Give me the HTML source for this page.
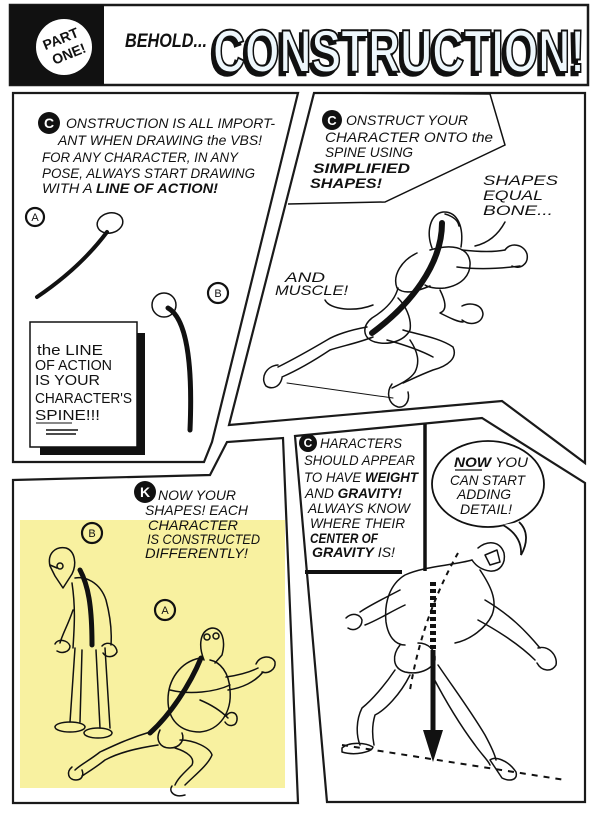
<!DOCTYPE html>
<html><head><meta charset="utf-8">
<style>
html,body{margin:0;padding:0;background:#fff;}
svg{display:block}
.t{font-family:"Liberation Sans",sans-serif;font-style:italic;font-size:14px;fill:#111;}
.b{font-weight:bold;}
.n{font-family:"Liberation Sans",sans-serif;font-size:15px;fill:#111;}
.ln{fill:none;stroke:#111;stroke-width:1.5;stroke-linecap:round;stroke-linejoin:round;}
.bd{fill:none;stroke:#1a1a1a;stroke-width:2.2;stroke-linejoin:miter;}
</style></head><body>
<svg width="600" height="816" viewBox="0 0 600 816" xmlns="http://www.w3.org/2000/svg">
<rect width="600" height="816" fill="#fff"/>

<!-- HEADER -->
<rect x="10" y="5" width="578" height="80" fill="#fff" stroke="#1a1a1a" stroke-width="2.5"/>
<rect x="10" y="5" width="94" height="80" fill="#111"/>
<circle cx="64" cy="47" r="28" fill="#fff"/>
<g transform="rotate(-22 64 47)" font-family="Liberation Sans, sans-serif" font-weight="bold" font-size="14" fill="#111">
<text x="64" y="43" text-anchor="middle">PART</text>
<text x="66" y="60" text-anchor="middle">ONE!</text>
</g>
<text x="125" y="47" class="t b" textLength="82" lengthAdjust="spacingAndGlyphs" style="font-size:19px">BEHOLD...</text>
<g font-family="Liberation Sans, sans-serif" font-weight="bold" font-size="60">
<text x="210" y="75" fill="#111" stroke="#111" stroke-width="2.5" textLength="372" lengthAdjust="spacingAndGlyphs">CONSTRUCTION!</text>
<text x="213" y="72" fill="#eef7fc" stroke="#111" stroke-width="2" textLength="372" lengthAdjust="spacingAndGlyphs">CONSTRUCTION!</text>
</g>

<!-- PANEL BORDERS -->
<path class="bd" d="M13,93 L298,93 L212,442 L204,462 L13,462 Z"/>
<path class="bd" d="M314,93 L585,93 L585,463 L502,401 L229,425 Z"/>
<rect x="20" y="520" width="265" height="268" fill="#f8f1a0"/>
<path class="bd" d="M13,480 L210,475 L227,442 L283,438 L298,803 L13,803 Z"/>
<path class="bd" d="M295,436 L482,418 L585,483 L585,802 L327,802 Z"/>
<line x1="425" y1="424" x2="425" y2="571" stroke="#111" stroke-width="3.5"/>
<line x1="305" y1="572" x2="402" y2="572" stroke="#111" stroke-width="4"/>

<!-- PANEL 1 -->
<circle cx="49" cy="123" r="11" fill="#111"/>
<text x="49" y="128" text-anchor="middle" font-family="Liberation Sans, sans-serif" font-weight="bold" font-size="14" fill="#fff">C</text>
<text class="t" x="66" y="128" textLength="209" lengthAdjust="spacingAndGlyphs">ONSTRUCTION IS ALL IMPORT-</text>
<text class="t" x="58" y="145" textLength="204" lengthAdjust="spacingAndGlyphs">ANT WHEN DRAWING the VBS!</text>
<text class="t" x="42" y="162" textLength="196" lengthAdjust="spacingAndGlyphs">FOR ANY CHARACTER, IN ANY</text>
<text class="t" x="42" y="178" textLength="213" lengthAdjust="spacingAndGlyphs">POSE, ALWAYS START DRAWING</text>
<text class="t" x="42" y="193" textLength="176" lengthAdjust="spacingAndGlyphs">WITH A <tspan class="b">LINE OF ACTION!</tspan></text>

<circle cx="35" cy="217" r="9" fill="none" stroke="#111" stroke-width="2.2"/>
<text x="35" y="221" text-anchor="middle" font-family="Liberation Sans, sans-serif" font-size="11" fill="#111">A</text>
<ellipse cx="110" cy="223" rx="13" ry="10" transform="rotate(-15 110 223)" class="ln"/>
<path d="M37,297 Q80,268 107,232" fill="none" stroke="#111" stroke-width="4" stroke-linecap="round"/>

<circle cx="218" cy="293" r="10" fill="none" stroke="#111" stroke-width="2.2"/>
<text x="218" y="297" text-anchor="middle" font-family="Liberation Sans, sans-serif" font-size="11" fill="#111">B</text>
<ellipse cx="164" cy="305" rx="12" ry="12" class="ln"/>
<path d="M168,308 C186,318 193,360 190,430" fill="none" stroke="#111" stroke-width="5" stroke-linecap="round"/>

<rect x="40" y="333" width="105" height="122" fill="#111"/>
<rect x="30" y="322" width="107" height="125" fill="#fff" stroke="#111" stroke-width="1.5"/>
<text class="n" x="37" y="355" textLength="66" lengthAdjust="spacingAndGlyphs">the LINE</text>
<text class="n" x="35" y="370" textLength="77" lengthAdjust="spacingAndGlyphs">OF ACTION</text>
<text class="n" x="35" y="385" textLength="65" lengthAdjust="spacingAndGlyphs">IS YOUR</text>
<text class="n" x="35" y="403" textLength="97" lengthAdjust="spacingAndGlyphs">CHARACTER'S</text>
<text class="n" x="35" y="420" textLength="65" lengthAdjust="spacingAndGlyphs">SPINE!!!</text>
<line x1="36" y1="423" x2="72" y2="423" stroke="#111" stroke-width="1"/>
<line x1="46" y1="430" x2="78" y2="430" stroke="#111" stroke-width="1.5"/>
<line x1="46" y1="434" x2="76" y2="434" stroke="#111" stroke-width="1.5"/>

<!-- PANEL 2 -->
<path d="M314,93 L490,94 L505,145 L385,202 L288,204" fill="none" stroke="#111" stroke-width="1.5"/>
<circle cx="332" cy="120" r="10" fill="#111"/>
<text x="332" y="125" text-anchor="middle" font-family="Liberation Sans, sans-serif" font-weight="bold" font-size="13" fill="#fff">C</text>
<text class="t" x="346" y="125" textLength="122" lengthAdjust="spacingAndGlyphs">ONSTRUCT YOUR</text>
<text class="t" x="325" y="142" textLength="168" lengthAdjust="spacingAndGlyphs">CHARACTER ONTO the</text>
<text class="t" x="325" y="157" textLength="88" lengthAdjust="spacingAndGlyphs">SPINE USING</text>
<text class="t b" x="313" y="173" textLength="97" lengthAdjust="spacingAndGlyphs">SIMPLIFIED</text>
<text class="t b" x="310" y="188" textLength="72" lengthAdjust="spacingAndGlyphs">SHAPES!</text>

<text class="t" x="483" y="185" textLength="75" lengthAdjust="spacingAndGlyphs">SHAPES</text>
<text class="t" x="483" y="200" textLength="60" lengthAdjust="spacingAndGlyphs">EQUAL</text>
<text class="t" x="483" y="215" textLength="70" lengthAdjust="spacingAndGlyphs">BONE...</text>
<path class="ln" d="M505,222 C498,235 488,243 475,246"/>

<text class="t" x="285" y="282" textLength="40" lengthAdjust="spacingAndGlyphs">AND</text>
<text class="t" x="275" y="295" textLength="73" lengthAdjust="spacingAndGlyphs">MUSCLE!</text>
<path class="ln" d="M325,300 C330,310 355,312 373,305"/>

<g class="ln">
<path d="M432,248 C426,232 430,214 443,212 C458,211 464,228 461,247"/>
<path d="M445,214 C452,216 458,220 459,226"/>
<path d="M417,253 C402,260 392,275 397,288 C405,296 420,290 430,286"/>
<path d="M430,250 C450,244 468,246 470,262 C471,275 462,285 445,288 C435,289 428,287 425,285"/>
<path d="M462,250 C480,252 495,252 505,250"/>
<path d="M457,267 C480,270 505,268 520,266"/>
<path d="M505,250 C510,242 524,244 527,254 C529,264 520,270 512,266"/>
<path d="M398,288 C395,300 385,310 372,318 C362,326 362,338 375,342 C390,346 405,340 410,330 C412,318 405,305 398,298"/>
<path d="M440,290 C445,300 448,310 440,313 C450,318 458,322 463,322"/>
<path d="M462,306 C470,302 482,304 483,314 C482,324 470,326 462,320"/>
<path d="M367,327 C350,330 335,335 327,340 C310,350 292,360 278,367"/>
<path d="M373,337 C358,343 342,346 330,350 C315,360 298,370 282,377"/>
<path d="M278,365 C266,366 260,378 266,386 C272,390 280,387 282,378"/>
<path d="M403,330 C420,335 440,338 453,347 C458,358 448,366 433,370 C420,375 410,380 403,383"/>
<path d="M387,340 C405,345 420,350 433,357"/>
<path d="M410,340 C418,352 420,362 415,372 C410,380 398,385 392,388"/>
<path d="M392,384 C386,392 388,404 398,407 C406,408 410,400 408,392"/>
<path d="M287,383 L393,398" stroke-width="1"/>
</g>
<path d="M442,223 C442,265 410,305 372,333" fill="none" stroke="#111" stroke-width="6" stroke-linecap="round"/>

<!-- PANEL 3 -->
<circle cx="145" cy="492" r="11" fill="#111"/>
<text x="145" y="497" text-anchor="middle" font-family="Liberation Sans, sans-serif" font-weight="bold" font-size="14" fill="#fff">K</text>
<text class="t" x="158" y="500" textLength="78" lengthAdjust="spacingAndGlyphs">NOW YOUR</text>
<text class="t" x="145" y="515" textLength="103" lengthAdjust="spacingAndGlyphs">SHAPES! EACH</text>
<text class="t" x="148" y="530" textLength="90" lengthAdjust="spacingAndGlyphs">CHARACTER</text>
<text class="t" x="147" y="544" textLength="113" lengthAdjust="spacingAndGlyphs">IS CONSTRUCTED</text>
<text class="t" x="145" y="558" textLength="103" lengthAdjust="spacingAndGlyphs">DIFFERENTLY!</text>

<circle cx="92" cy="533" r="10" fill="none" stroke="#111" stroke-width="2.2"/>
<text x="92" y="537" text-anchor="middle" font-family="Liberation Sans, sans-serif" font-size="11" fill="#111">B</text>
<circle cx="165" cy="610" r="10" fill="none" stroke="#111" stroke-width="2.2"/>
<text x="165" y="614" text-anchor="middle" font-family="Liberation Sans, sans-serif" font-size="11" fill="#111">A</text>

<g class="ln">
<!-- figure B -->
<path d="M50,566 C47,553 56,546 66,548 C75,551 77,564 72,574 L63,588 L55,576 Z"/>
<circle cx="60" cy="566" r="3"/>
<path d="M50,565 L57,568"/>
<path d="M72,583 C76,610 74,630 73,648"/>
<path d="M75,578 C85,576 100,582 106,600 C110,615 112,630 111,645"/>
<path d="M73,610 C68,625 62,635 60,643"/>
<path d="M55,644 C58,638 68,640 70,646 C70,652 62,654 57,651"/>
<path d="M102,646 C108,640 117,645 117,652 C114,658 106,658 103,653"/>
<path d="M75,648 L70,722 M82,650 L80,722 M96,650 L100,728 M105,648 L110,728"/>
<ellipse cx="70" cy="727" rx="15" ry="5"/>
<ellipse cx="98" cy="733" rx="14" ry="5"/>
<!-- figure A -->
<path d="M204,660 C198,645 200,630 212,628 C222,628 226,640 222,655 L215,663"/>
<circle cx="207" cy="637" r="3"/>
<circle cx="216" cy="636" r="3"/>
<path d="M200,658 C180,662 168,680 168,700 C168,720 180,732 200,732 C220,730 232,712 230,690 C229,672 220,662 210,660"/>
<path d="M170,690 C190,695 215,692 230,685"/>
<path d="M200,700 C212,705 222,712 228,718"/>
<path d="M226,677 C240,675 250,672 258,668 M228,690 C242,688 255,682 263,672"/>
<path d="M256,664 C260,655 272,655 275,662 C276,670 268,674 262,672"/>
<path d="M226,716 C230,710 238,712 237,720 C236,727 228,727 225,722"/>
<path d="M160,730 C155,740 160,748 170,748 C180,748 185,740 182,733"/>
<path d="M150,732 C130,738 115,745 100,752 C90,760 80,765 75,770"/>
<path d="M158,745 C138,748 120,752 105,760 C95,768 88,772 82,776"/>
<path d="M72,767 C66,772 68,780 76,780 C82,780 84,775 82,770"/>
<path d="M180,740 C195,740 210,748 212,755 C208,765 195,775 185,785"/>
<path d="M175,748 C188,752 195,758 192,765 C185,772 178,778 175,785"/>
<path d="M172,786 C168,792 175,798 185,795"/>
</g>
<path d="M80,570 C88,585 92,605 92,645" fill="none" stroke="#111" stroke-width="5" stroke-linecap="round"/>
<path d="M201,658 C190,685 170,715 150,733" fill="none" stroke="#111" stroke-width="5" stroke-linecap="round"/>

<!-- PANEL 4 -->
<circle cx="308" cy="443" r="9" fill="#111"/>
<text x="308" y="447" text-anchor="middle" font-family="Liberation Sans, sans-serif" font-weight="bold" font-size="12" fill="#fff">C</text>
<text class="t" x="320" y="448" textLength="82" lengthAdjust="spacingAndGlyphs">HARACTERS</text>
<text class="t" x="304" y="465" textLength="111" lengthAdjust="spacingAndGlyphs">SHOULD APPEAR</text>
<text class="t" x="304" y="482" textLength="114" lengthAdjust="spacingAndGlyphs">TO HAVE <tspan class="b">WEIGHT</tspan></text>
<text class="t" x="305" y="498" textLength="97" lengthAdjust="spacingAndGlyphs">AND <tspan class="b">GRAVITY!</tspan></text>
<text class="t" x="308" y="513" textLength="102" lengthAdjust="spacingAndGlyphs">ALWAYS KNOW</text>
<text class="t" x="310" y="528" textLength="95" lengthAdjust="spacingAndGlyphs">WHERE THEIR</text>
<text class="t b" x="310" y="543" textLength="68" lengthAdjust="spacingAndGlyphs">CENTER OF</text>
<text class="t" x="312" y="557" textLength="83" lengthAdjust="spacingAndGlyphs"><tspan class="b">GRAVITY</tspan> IS!</text>

<!-- PANEL 5 -->
<ellipse cx="488" cy="484" rx="56" ry="43" fill="#fff" stroke="#111" stroke-width="1.8"/>
<path d="M503,525 C515,532 522,542 521,555 C528,543 528,530 519,522" fill="#fff" stroke="#111" stroke-width="1.8"/>
<text class="t" x="454" y="467" textLength="74" lengthAdjust="spacingAndGlyphs"><tspan class="b">NOW</tspan> YOU</text>
<line x1="455" y1="470" x2="482" y2="470" stroke="#111" stroke-width="1.3"/>
<text class="t" x="450" y="485" textLength="75" lengthAdjust="spacingAndGlyphs">CAN START</text>
<text class="t" x="457" y="499" textLength="54" lengthAdjust="spacingAndGlyphs">ADDING</text>
<text class="t" x="460" y="514" textLength="52" lengthAdjust="spacingAndGlyphs">DETAIL!</text>

<g class="ln">
<path d="M478,548 C488,540 500,541 504,553 C506,563 500,572 490,571 C482,570 476,566 472,560"/>
<path d="M485,555 L497,550 L500,562 L490,565 Z"/>
<path d="M472,560 C455,565 425,566 405,575 C390,584 384,602 386,622 C388,636 395,645 405,645"/>
<path d="M480,570 C490,585 498,600 492,615 C486,628 470,640 455,643"/>
<path d="M400,590 C385,598 370,605 360,612 M405,605 C390,612 378,620 365,625"/>
<path d="M346,618 C352,612 360,614 362,620 C362,628 354,632 348,628"/>
<path d="M485,600 C510,615 525,630 540,648 M478,620 C500,632 520,645 535,660"/>
<path d="M538,648 C548,645 558,655 556,665 C552,672 542,672 537,663"/>
<path d="M400,645 C392,655 392,668 405,672 C418,675 432,670 435,660 C436,650 428,643 418,643"/>
<path d="M395,670 C385,685 372,700 362,708 C356,720 356,735 360,745"/>
<path d="M410,675 C400,695 385,710 375,715 C372,725 372,735 374,745"/>
<path d="M342,748 C348,742 365,742 373,747 C372,752 355,756 342,752 Z"/>
<path d="M438,665 C455,690 470,710 485,735 C492,748 495,755 496,760"/>
<path d="M432,675 C445,700 460,725 475,745 C482,755 488,760 490,765"/>
<path d="M490,760 C495,756 508,760 516,772 C518,780 510,782 502,778 Z"/>
</g>
<path d="M458,553 C440,585 420,630 410,690" fill="none" stroke="#111" stroke-width="2" stroke-dasharray="5,5"/>
<line x1="433" y1="582" x2="433" y2="650" stroke="#111" stroke-width="6" stroke-dasharray="4,3"/>
<line x1="433" y1="650" x2="433" y2="735" stroke="#111" stroke-width="5"/>
<path d="M423,730 L443,730 L433,762 Z" fill="#111"/>
<path d="M342,745 L565,780" fill="none" stroke="#111" stroke-width="2" stroke-dasharray="6,6"/>
</svg>
</body></html>
